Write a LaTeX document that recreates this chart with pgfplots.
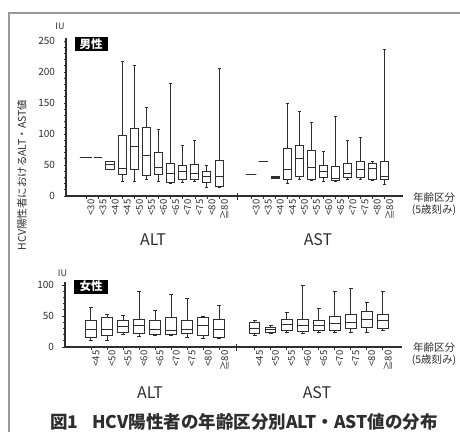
\documentclass[border=0pt]{standalone}
\usepackage{pgfplots}
\pgfplotsset{compat=1.18}
\usepgfplotslibrary{statistics}
\usepackage{fontspec}
\setmainfont{Noto Sans CJK JP}
\definecolor{ink}{HTML}{2E2E2E}
\pgfplotsset{
  bp/.style={draw=ink, fill=white, line width=1pt, solid, mark=none, boxplot/draw direction=y},
  myaxis/.style={
    scale only axis,
    axis x line=bottom, axis y line=left,
    axis line style={-, ink, line width=1.1pt},
    tick style={ink, line width=0.7pt},
    tick align=outside,
    major tick length=2.5pt, minor tick length=1.8pt,
    /pgf/number format/assume math mode=true,
    yticklabel style={font=\fontsize{10}{11}\selectfont, text=ink, xshift=-5pt},
    xticklabel style={font=\fontsize{9.5}{10}\selectfont, text=ink, rotate=90, anchor=east, inner sep=1pt, yshift=-5pt},
    clip=false,
  },
}
\newcommand{\bx}[7]{\addplot[bp, boxplot prepared={draw position=#1, lower whisker=#2, lower quartile=#3, median=#4, upper quartile=#5, upper whisker=#6, box extend=#7, whisker extend=0.25}] coordinates {};}
\begin{document}
\begin{tikzpicture}
\useasboundingbox (0pt,0pt) rectangle (460pt,432pt);
\draw[gray!80, line width=1.5pt] (9pt,0pt) -- (9pt,419pt) -- (460pt,419pt);

% Male
\begin{axis}[myaxis, at={(66pt,236pt)}, anchor=south west,
  width=337pt, height=158.1pt,
  xmin=-1.65, xmax=26.2, ymin=0, ymax=255,
  ytick={0,50,100,150,200,250}, minor y tick num=4,
  xtick={0,1,2,3,4,5,6,7,8,9,10,11,13.65,14.65,15.65,16.65,17.65,18.65,19.65,20.65,21.65,22.65,23.65,24.65},
  xticklabels={<30,<35,<40,<45,<50,<55,<60,<65,<70,<75,<80,≧80,<30,<35,<40,<45,<50,<55,<60,<65,<70,<75,<80,≧80},
  extra x ticks={12.5}, extra x tick labels={},
  extra x tick style={major tick length=7pt, tick align=center, tick style={line width=0.9pt}},
]
% ALT
\bx{0}{62}{62}{62}{62}{62}{1.0}
\bx{1}{62}{62}{62}{62}{62}{0.7}
\bx{2}{42}{42}{51}{56}{56}{0.7}
\bx{3}{23}{35}{45}{98}{217}{0.66}
\bx{4}{23}{42}{80}{109}{211}{0.66}
\bx{5}{26}{33}{65}{110}{143}{0.66}
\bx{6}{23}{34}{46}{70}{108}{0.66}
\bx{7}{20}{21}{37}{52}{182}{0.66}
\bx{8}{21}{26}{39}{50}{81}{0.66}
\bx{9}{23}{26}{37}{51}{90}{0.66}
\bx{10}{14}{21}{32}{39}{50}{0.66}
\bx{11}{14}{16}{31}{58}{206}{0.66}
% AST
\bx{13.65}{35}{35}{35}{35}{35}{0.85}
\bx{14.65}{56}{56}{56}{56}{56}{0.75}
\bx{15.65}{29}{29}{30}{31}{31}{0.7}
\bx{16.65}{20}{27}{42}{77}{150}{0.66}
\bx{17.65}{26}{32}{61}{82}{137}{0.66}
\bx{18.65}{25}{27}{46}{74}{118}{0.66}
\bx{19.65}{23}{30}{39}{50}{71}{0.66}
\bx{20.65}{23}{25}{28}{47}{129}{0.66}
\bx{21.65}{27}{30}{37}{53}{89}{0.66}
\bx{22.65}{26}{30}{42}{56}{94}{0.66}
\bx{23.65}{25}{27}{45}{53}{56}{0.66}
\bx{24.65}{19}{27}{32}{55}{237}{0.66}
\end{axis}

% Female
\begin{axis}[myaxis, at={(65pt,85pt)}, anchor=south west,
  width=337pt, height=65.1pt,
  xmin=-1.62, xmax=19.4, ymin=0, ymax=105,
  ytick={0,50,100}, minor y tick num=4,
  xtick={0,1,2,3,4,5,6,7,8,10.2,11.2,12.2,13.2,14.2,15.2,16.2,17.2,18.2},
  xticklabels={<45,<50,<55,<60,<65,<70,<75,<80,≧80,<45,<50,<55,<60,<65,<70,<75,<80,≧80},
  extra x ticks={9.1}, extra x tick labels={},
  extra x tick style={major tick length=7pt, tick align=center, tick style={line width=0.9pt}},
]
% ALT
\bx{0}{11}{16}{29}{42}{63}{0.68}
\bx{1}{11}{19}{29}{47}{52}{0.68}
\bx{2}{20}{23}{33}{42}{51}{0.68}
\bx{3}{17}{22}{34}{45}{89}{0.68}
\bx{4}{18}{20}{28}{42}{59}{0.68}
\bx{5}{18}{20}{27}{47}{84}{0.68}
\bx{6}{15}{22}{29}{42}{79}{0.68}
\bx{7}{13}{19}{34}{47}{49}{0.68}
\bx{8}{14}{16}{29}{44}{67}{0.68}
% AST
\bx{10.2}{19}{21}{30}{39}{43}{0.68}
\bx{11.2}{22}{24}{28}{31}{35}{0.68}
\bx{12.2}{23}{27}{36}{45}{55}{0.68}
\bx{13.2}{22}{25}{35}{45}{100}{0.68}
\bx{14.2}{23}{27}{35}{43}{62}{0.68}
\bx{15.2}{24}{27}{38}{50}{89}{0.68}
\bx{16.2}{24}{30}{39}{52}{94}{0.68}
\bx{17.2}{24}{31}{45}{58}{72}{0.68}
\bx{18.2}{27}{30}{43}{52}{89}{0.68}
\end{axis}

% decorations
\node[fill=black, text=white, font=\fontsize{11.5}{12}\bfseries\selectfont, inner sep=1.5pt, minimum width=33pt, minimum height=14pt] at (91pt,388pt) {男性};
\node[fill=black, text=white, font=\fontsize{11.5}{12}\bfseries\selectfont, inner sep=1.5pt, minimum width=34pt, minimum height=14pt] at (91pt,145.5pt) {女性};
\node[font=\fontsize{9}{10}\selectfont, text=ink] at (60pt,405.5pt) {IU};
\node[font=\fontsize{9}{10}\selectfont, text=ink] at (62.5pt,158.5pt) {IU};
\node[font=\fontsize{16}{17}\selectfont, text=ink] at (153pt,192pt) {ALT};
\node[font=\fontsize{16}{17}\selectfont, text=ink] at (318pt,192pt) {AST};
\node[font=\fontsize{16}{17}\selectfont, text=ink] at (150pt,39pt) {ALT};
\node[font=\fontsize{16}{17}\selectfont, text=ink] at (317pt,39pt) {AST};
\node[font=\fontsize{10.5}{12}\selectfont, text=ink, align=center, inner sep=0pt] at (434pt,228pt) {年齢区分\\(5歳刻み)};
\node[font=\fontsize{10.5}{12}\selectfont, text=ink, align=center, inner sep=0pt] at (434pt,78pt) {年齢区分\\(5歳刻み)};
\node[font=\fontsize{10.5}{11}\selectfont, text=ink, rotate=90] at (22pt,257pt) {HCV陽性者におけるALT・AST値};
\node[font=\fontsize{17.5}{18}\bfseries\selectfont, text=ink] at (244pt,10pt) {図1\hspace{0.8em}HCV陽性者の年齢区分別ALT・AST値の分布};
\end{tikzpicture}
\end{document}
